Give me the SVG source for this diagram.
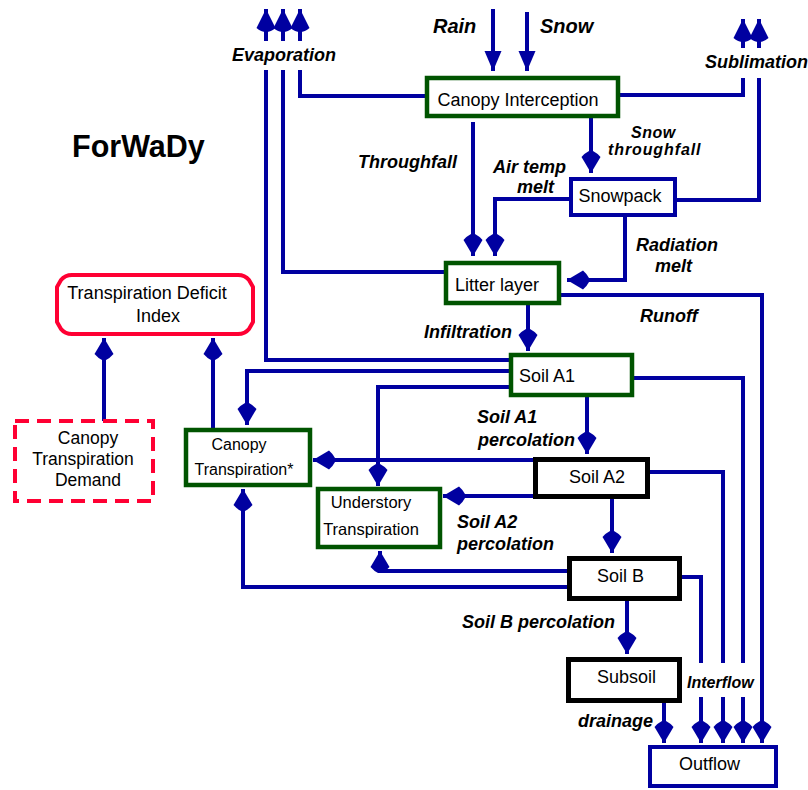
<svg xmlns="http://www.w3.org/2000/svg" width="808" height="790" viewBox="0 0 808 790">
<defs>
<style>
.c{fill:none;stroke:#0000a0;stroke-width:4;stroke-linejoin:miter}
.a{marker-end:url(#ah)}
.at{marker-end:url(#tri)}
.a2{marker-end:url(#ah2)}
.g{fill:#fff;stroke:#005400;stroke-width:4.5}
.k{fill:#fff;stroke:#000;stroke-width:5}
.b{fill:#fff;stroke:#0000a0;stroke-width:4}
.t{font-family:"Liberation Sans",Arial,sans-serif;font-size:18px;fill:#000}
.m{text-anchor:middle}
.l{font-family:"Liberation Sans",Arial,sans-serif;font-size:18px;font-weight:bold;font-style:italic;fill:#000}
</style>
<marker id="ah" viewBox="-23 -11 24 22" refX="0" refY="0" markerWidth="24" markerHeight="22" orient="auto" markerUnits="userSpaceOnUse"><path d="M0,0 L-16,-9.5 Q-20,-6 -22,-2 L-22,2 Q-20,6 -16,9.5 Z" fill="#0000a0"/></marker>
<marker id="ah2" viewBox="-24 -11 25 22" refX="0" refY="0" markerWidth="25" markerHeight="22" orient="auto" markerUnits="userSpaceOnUse"><path d="M0,0 L-19,-9.5 Q-23,-5 -23,0 Q-23,5 -19,9.5 Z" fill="#0000a0"/></marker>
<marker id="tri" viewBox="-21 -10 22 20" refX="0" refY="0" markerWidth="22" markerHeight="20" orient="auto" markerUnits="userSpaceOnUse"><path d="M0,0 L-20,-8.5 L-20,8.5 Z" fill="#0000a0"/></marker>
</defs>
<rect width="808" height="790" fill="#fff"/>

<text x="72" y="157" style="font-family:'Liberation Sans',Arial,sans-serif;font-size:30.5px;font-weight:bold">ForWaDy</text>

<g id="connectors">
<!-- evaporation -->
<path class="c" d="M509,360 H266 V70"/>
<path class="c" d="M444,272 H283 V70"/>
<path class="c" d="M427,96 H300 V70"/>
<path class="c a2" d="M266,41 V9"/>
<path class="c a2" d="M283,41 V9"/>
<path class="c a2" d="M300,41 V9"/>
<!-- sublimation -->
<path class="c" d="M618,95 H743 V78"/>
<path class="c" d="M675,200 H759 V78"/>
<path class="c a2" d="M743,48 V19"/>
<path class="c a2" d="M759,48 V19"/>
<!-- rain snow -->
<path class="c at" d="M493,9 V71"/>
<path class="c at" d="M527,12 V71"/>
<!-- canopy -> snowpack / litter -->
<path class="c a" d="M591,118 V173"/>
<path class="c a" d="M473,122 V256"/>
<path class="c a" d="M569,199 H495 V256"/>
<path class="c a" d="M625,217 V280 H567"/>
<!-- runoff -->
<path class="c a" d="M561,295 H762 V743"/>
<!-- infiltration -->
<path class="c a" d="M528,305 V351"/>
<!-- soil A1 -->
<path class="c a" d="M509,371 H247 V425"/>
<path class="c a" d="M509,387 H378 V486"/>
<path class="c" d="M632,378 H743 V663"/>
<path class="c a" d="M743,697 V743"/>
<path class="c a" d="M587,397 V454"/>
<!-- soil A2 -->
<path class="c a" d="M533,460 H313"/>
<path class="c a" d="M533,496 H443"/>
<path class="c" d="M648,472 H723 V663"/>
<path class="c a" d="M723,697 V743"/>
<path class="c a" d="M612,499 V553"/>
<!-- soil B -->
<path class="c a" d="M567,571 H380 V551"/>
<path class="c a" d="M567,587 H243 V489"/>
<path class="c" d="M680,577 H701 V663"/>
<path class="c a" d="M701,697 V743"/>
<path class="c a" d="M627,601 V654"/>
<!-- drainage -->
<path class="c a" d="M664,703 V743"/>
<!-- to TDI -->
<path class="c a" d="M104,421 V338"/>
<path class="c a" d="M213,428 V338"/>

<text class="l" x="433" y="33" style="font-size:20px">Rain</text>
<text class="l" x="540" y="33" style="font-size:20px">Snow</text>
<text class="l" x="232" y="61">Evaporation</text>
<text class="l" x="705" y="68">Sublimation</text>
<text class="l" x="631" y="138" style="font-size:16px;letter-spacing:0.5px">Snow</text>
<text class="l" x="608" y="155" style="font-size:16px;letter-spacing:0.9px">throughfall</text>
<text class="l" x="358" y="168">Throughfall</text>
<text class="l" x="493" y="173">Air temp</text>
<text class="l" x="517" y="193">melt</text>
<text class="l" x="636" y="251">Radiation</text>
<text class="l" x="655" y="272">melt</text>
<text class="l" x="424" y="338">Infiltration</text>
<text class="l" x="640" y="322">Runoff</text>
<text class="l" x="477" y="423">Soil A1</text>
<text class="l" x="478" y="446">percolation</text>
<text class="l" x="457" y="528">Soil A2</text>
<text class="l" x="457" y="550">percolation</text>
<text class="l" x="462" y="628">Soil B percolation</text>
<text class="l" x="687" y="688" style="font-size:16px">Interflow</text>
<text class="l" x="578" y="727">drainage</text>
</g>

<g id="canopy-interception">
<rect class="g" x="427" y="78" width="191" height="38"/>
<text class="t m" x="518" y="106">Canopy Interception</text>
</g>
<g id="snowpack">
<rect class="b" x="571" y="179" width="104" height="36"/>
<text class="t m" x="620" y="202">Snowpack</text>
</g>
<g id="litter-layer">
<rect class="g" x="446" y="263" width="113" height="40"/>
<text class="t m" x="497" y="291">Litter layer</text>
</g>
<g id="soil-a1">
<rect class="g" x="511" y="355" width="121" height="40"/>
<text class="t" x="519" y="382">Soil A1</text>
</g>
<g id="soil-a2">
<rect class="k" x="535.5" y="459.5" width="112" height="37"/>
<text class="t" x="569" y="483">Soil A2</text>
</g>
<g id="soil-b">
<rect class="k" x="569.5" y="558.5" width="110" height="40"/>
<text class="t" x="597" y="582">Soil B</text>
</g>
<g id="subsoil">
<rect class="k" x="568.5" y="659.5" width="111" height="41"/>
<text class="t" x="597" y="683">Subsoil</text>
</g>
<g id="outflow">
<rect class="b" x="650" y="747" width="126" height="39"/>
<text class="t" x="679" y="770">Outflow</text>
</g>
<g id="canopy-transpiration">
<rect class="g" x="186" y="430" width="124" height="55"/>
<text class="t m" x="239" y="450" style="font-size:16px">Canopy</text>
<text class="t m" x="244" y="475" style="font-size:16px">Transpiration*</text>
</g>
<g id="understory-transpiration">
<rect class="g" x="318" y="489" width="122" height="58"/>
<text class="t m" x="371" y="508" style="font-size:16.5px">Understory</text>
<text class="t m" x="371" y="535" style="font-size:16.5px">Transpiration</text>
</g>
<g id="transpiration-deficit-index">
<path d="M72,275 H238 Q245,275 249,280 L253,287 V322 L249,329 Q245,334 238,334 H72 Q65,334 61,329 L57,322 V287 L61,280 Q65,275 72,275 Z" fill="#fff" stroke="#ff0033" stroke-width="4" stroke-linejoin="round"/>
<text class="t m" x="147" y="299">Transpiration Deficit</text>
<text class="t m" x="158" y="322">Index</text>
</g>
<g id="canopy-transpiration-demand">
<rect x="15" y="421" width="138" height="80" fill="#fff" stroke="#ff0033" stroke-width="4" stroke-dasharray="14 8"/>
<text class="t m" x="88" y="444" style="font-size:17.5px">Canopy</text>
<text class="t m" x="83" y="465" style="font-size:17.5px">Transpiration</text>
<text class="t m" x="88" y="486" style="font-size:17.5px">Demand</text>
</g>
</svg>
